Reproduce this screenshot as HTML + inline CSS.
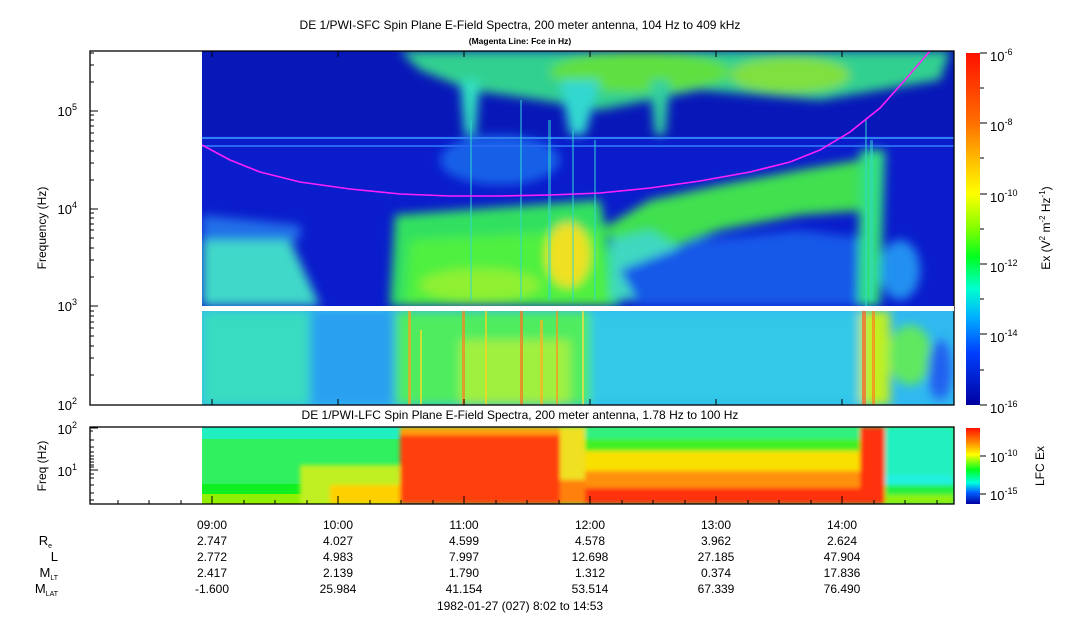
<!DOCTYPE html>
<html><head><meta charset="utf-8"><style>
body{margin:0;background:#fff;width:1083px;height:620px;overflow:hidden;font-family:"Liberation Sans",sans-serif}
svg text{font-family:"Liberation Sans",sans-serif;fill:#000}
</style></head><body>
<svg width="1083" height="620" xmlns="http://www.w3.org/2000/svg">
<defs>
<filter id="b" x="-20%" y="-20%" width="140%" height="140%"><feGaussianBlur stdDeviation="5"/></filter>
<filter id="b2"><feGaussianBlur stdDeviation="2"/></filter>
<clipPath id="cu"><rect x="202" y="51" width="752" height="255"/></clipPath>
<clipPath id="cl"><rect x="202" y="311" width="752" height="94"/></clipPath>
<clipPath id="cf"><rect x="202" y="427" width="752" height="77"/></clipPath>
<linearGradient id="cb" x1="0" y1="0" x2="0" y2="1">
<stop offset="0" stop-color="#ff1000"/><stop offset="0.2" stop-color="#ff7000"/><stop offset="0.33" stop-color="#ffd000"/><stop offset="0.4" stop-color="#ffff00"/><stop offset="0.5" stop-color="#80ff00"/><stop offset="0.58" stop-color="#00ff20"/><stop offset="0.67" stop-color="#00ffd0"/><stop offset="0.75" stop-color="#00b0ff"/><stop offset="0.85" stop-color="#0040ff"/><stop offset="1" stop-color="#0000a0"/></linearGradient>
<linearGradient id="cb2" x1="0" y1="0" x2="0" y2="1">
<stop offset="0" stop-color="#ff1000"/><stop offset="0.2" stop-color="#ff9000"/><stop offset="0.35" stop-color="#ffff00"/><stop offset="0.55" stop-color="#00ff20"/><stop offset="0.72" stop-color="#00ffe0"/><stop offset="0.85" stop-color="#0060ff"/><stop offset="1" stop-color="#0000a0"/></linearGradient>
</defs>

<!-- upper SFC panel -->
<rect x="202" y="51" width="752" height="255" fill="#0a1ccc"/>
<g clip-path="url(#cu)">
<rect x="202" y="51" width="752" height="85" fill="#0818b8"/>
<g filter="url(#b)">
<polygon points="202,240 290,240 320,306 202,306" fill="#40d8c8"/>
<polygon points="202,215 300,225 300,240 202,240" fill="#2070e8"/>
<polygon points="395,215 600,200 620,306 390,306" fill="#30e060"/>
<polygon points="410,240 600,230 610,306 405,306" fill="#50f040"/>
<ellipse cx="568" cy="255" rx="22" ry="32" fill="#f0e020"/>
<ellipse cx="480" cy="285" rx="60" ry="16" fill="#90f030"/>
<polygon points="600,230 650,200 720,185 800,170 860,160 870,210 800,215 720,230 640,260" fill="#40e050"/>
<polygon points="610,240 650,230 700,260 640,300 610,300" fill="#40d8c0"/>
<polygon points="620,270 700,240 800,230 880,240 880,306 640,306" fill="#1858e8"/>
<polygon points="400,51 950,51 940,80 880,90 820,100 760,95 700,90 650,100 600,110 540,100 470,90 420,70" fill="#30d090"/>
<ellipse cx="640" cy="72" rx="90" ry="20" fill="#60e040"/>
<ellipse cx="790" cy="75" rx="60" ry="18" fill="#80e040"/>
<polygon points="460,80 480,80 475,135 465,135" fill="#30e0c0"/>
<polygon points="560,80 600,80 585,135 570,135" fill="#30d8d0"/>
<polygon points="650,80 670,80 665,135 655,135" fill="#30d0a0"/>
<polygon points="860,150 885,150 880,306 858,306" fill="#30e080"/>
<ellipse cx="500" cy="160" rx="60" ry="25" fill="#1860e8"/>
<ellipse cx="900" cy="270" rx="20" ry="30" fill="#2090f0"/>
</g>
<rect x="202" y="137" width="752" height="2" fill="#3080f0"/>
<rect x="202" y="145" width="752" height="2" fill="#2868f0"/>
<g fill="#30d8d0" opacity="0.5">
<rect x="470" y="120" width="2" height="180"/><rect x="520" y="100" width="2" height="200"/><rect x="548" y="120" width="3" height="180"/>
<rect x="572" y="130" width="2" height="170"/><rect x="594" y="140" width="2" height="160"/><rect x="865" y="120" width="2" height="186"/>
<rect x="870" y="140" width="3" height="160"/>
</g>
<polyline fill="none" stroke="#ff20ff" stroke-width="1.6" points="202,145 230,160 260,172 300,182 350,189 400,194 450,196 500,196 550,195 600,193 650,188 700,181 750,172 790,162 820,150 850,132 880,108 905,80 930,51"/>
</g>

<!-- lower SFC panel -->
<g clip-path="url(#cl)">
<rect x="202" y="311" width="752" height="94" fill="#30b8f0"/>
<g filter="url(#b)">
<rect x="202" y="311" width="110" height="94" fill="#38dcc0"/>
<rect x="310" y="311" width="85" height="94" fill="#2aa0f0"/>
<rect x="395" y="311" width="195" height="94" fill="#50ec60"/>
<rect x="460" y="340" width="110" height="65" fill="#a0f040"/>
<rect x="590" y="311" width="270" height="94" fill="#30c8e8"/>
<rect x="860" y="311" width="30" height="94" fill="#c0f020"/>
<ellipse cx="910" cy="355" rx="22" ry="30" fill="#60e860"/>
<ellipse cx="940" cy="370" rx="12" ry="30" fill="#2060f0"/>
</g>
<g opacity="0.7">
<rect x="408" y="311" width="3" height="94" fill="#ffa020"/><rect x="420" y="330" width="2" height="75" fill="#ffe020"/>
<rect x="462" y="311" width="3" height="94" fill="#ff8020"/><rect x="485" y="311" width="2" height="94" fill="#ffd020"/>
<rect x="520" y="311" width="3" height="94" fill="#ff7020"/><rect x="540" y="320" width="3" height="85" fill="#ffb020"/>
<rect x="556" y="311" width="2" height="94" fill="#ff9020"/><rect x="582" y="311" width="2" height="94" fill="#ffe040"/>
<rect x="862" y="311" width="4" height="94" fill="#ff6020"/><rect x="872" y="311" width="3" height="94" fill="#ff8020"/>
</g>
</g>

<!-- FCE panel -->
<g clip-path="url(#cf)">
<rect x="202" y="427" width="752" height="77" fill="#30f060"/>
<rect x="202" y="427" width="200" height="12" fill="#20f0c0"/>
<rect x="202" y="439" width="200" height="40" fill="#30f060"/>
<rect x="202" y="484" width="200" height="10" fill="#10f020"/>
<rect x="202" y="494" width="200" height="10" fill="#90f000"/>
<g filter="url(#b2)">
<rect x="300" y="465" width="100" height="39" fill="#c0f020"/>
<rect x="330" y="485" width="70" height="19" fill="#ffd000"/>
<rect x="400" y="427" width="160" height="77" fill="#ff4010"/>
<rect x="400" y="427" width="160" height="8" fill="#ffa010"/>
<rect x="560" y="427" width="25" height="77" fill="#f0e020"/>
<rect x="560" y="480" width="25" height="24" fill="#ff8010"/>
<rect x="585" y="427" width="275" height="12" fill="#30f080"/>
<rect x="585" y="439" width="275" height="12" fill="#40f020"/>
<rect x="585" y="451" width="275" height="20" fill="#f8e000"/>
<rect x="585" y="471" width="275" height="17" fill="#ff9010"/>
<rect x="585" y="488" width="275" height="16" fill="#ff3010"/>
<rect x="860" y="427" width="25" height="77" fill="#ff3010"/>
<rect x="885" y="427" width="69" height="60" fill="#20f0c0"/>
<rect x="885" y="475" width="69" height="10" fill="#20f0e0"/>
<rect x="885" y="485" width="69" height="10" fill="#20f040"/>
<rect x="885" y="495" width="69" height="9" fill="#90f010"/>
</g>
</g>

<!-- frames -->
<g fill="none" stroke="#000" stroke-width="1.3">
<rect x="90" y="51" width="864" height="354"/>
<rect x="90" y="427" width="864" height="77"/>
</g>
<rect x="202" y="306" width="752" height="5" fill="#fff"/>

<g stroke="#000" stroke-width="1">
<path d="M90 405h8M90 306h8M90 209h8M90 111h8"/>
<path d="M90 375h4M90 358h4M90 346h4M90 336h4M90 328h4M90 322h4M90 316h4M90 311h4M90 277h4M90 260h4M90 248h4M90 238h4M90 230h4M90 224h4M90 218h4M90 213h4M90 180h4M90 163h4M90 151h4M90 141h4M90 133h4M90 126h4M90 120h4M90 115h4M90 82h4M90 65h4M90 53h4"/>
<path d="M90 428h8M90 470h8M90 485h4M90 478h4M90 474h4M90 493h4M90 500h4M90 440h4M90 447h4M90 452h4M90 456h4M90 459h4M90 462h4M90 465h4M90 467h4M90 431h3"/>
<path d="M212 504v-8M338 504v-8M464 504v-8M590 504v-8M716 504v-8M842 504v-8"/>
<path d="M118 504v-4M149 504v-4M181 504v-4M244 504v-4M275 504v-4M307 504v-4M370 504v-4M401 504v-4M433 504v-4M496 504v-4M527 504v-4M559 504v-4M622 504v-4M653 504v-4M685 504v-4M748 504v-4M779 504v-4M811 504v-4M874 504v-4M905 504v-4M937 504v-4"/>
<path d="M212 51v6M338 51v6M464 51v6M590 51v6M716 51v6M842 51v6M212 405v-6M338 405v-6M464 405v-6M590 405v-6M716 405v-6M842 405v-6"/>
</g>
<g font-size="13" text-anchor="end">
<text x="77" y="410">10<tspan font-size="9" dy="-6">2</tspan></text>
<text x="77" y="311">10<tspan font-size="9" dy="-6">3</tspan></text>
<text x="77" y="214">10<tspan font-size="9" dy="-6">4</tspan></text>
<text x="77" y="116">10<tspan font-size="9" dy="-6">5</tspan></text>
<text x="77" y="434">10<tspan font-size="9" dy="-6">2</tspan></text>
<text x="77" y="476">10<tspan font-size="9" dy="-6">1</tspan></text>
</g>
<text font-size="12" transform="translate(46,228) rotate(-90)" text-anchor="middle">Frequency (Hz)</text>
<text font-size="12" transform="translate(46,466) rotate(-90)" text-anchor="middle">Freq (Hz)</text>

<text x="520" y="29" font-size="12" text-anchor="middle">DE 1/PWI-SFC  Spin Plane E-Field Spectra, 200 meter antenna, 104 Hz to 409 kHz</text>
<text x="520" y="44" font-size="8.5" text-anchor="middle" font-weight="bold">(Magenta Line: Fce in Hz)</text>
<text x="520" y="419" font-size="12" text-anchor="middle">DE 1/PWI-LFC  Spin Plane E-Field Spectra, 200 meter antenna, 1.78 Hz to 100 Hz</text>

<rect x="966" y="53" width="14" height="352" fill="url(#cb)"/>
<g stroke="#000"><path d="M980 53h7M980 123h7M980 194h7M980 264h7M980 334h7M980 405h7M980 88h4M980 158h4M980 229h4M980 299h4M980 370h4"/></g>
<g font-size="13">
<text x="990" y="61">10<tspan font-size="9" dy="-6">-6</tspan></text>
<text x="990" y="131">10<tspan font-size="9" dy="-6">-8</tspan></text>
<text x="990" y="202">10<tspan font-size="9" dy="-6">-10</tspan></text>
<text x="990" y="272">10<tspan font-size="9" dy="-6">-12</tspan></text>
<text x="990" y="342">10<tspan font-size="9" dy="-6">-14</tspan></text>
<text x="990" y="413">10<tspan font-size="9" dy="-6">-16</tspan></text>
</g>
<text font-size="12" transform="translate(1050,228) rotate(-90)" text-anchor="middle">Ex (V<tspan font-size="8" dy="-5">2</tspan><tspan dy="5"> m</tspan><tspan font-size="8" dy="-5">-2</tspan><tspan dy="5"> Hz</tspan><tspan font-size="8" dy="-5">-1</tspan><tspan dy="5">)</tspan></text>
<rect x="966" y="428" width="14" height="76" fill="url(#cb2)"/>
<g stroke="#000"><path d="M980 456h6M980 494h6"/></g>
<g font-size="13">
<text x="990" y="462">10<tspan font-size="9" dy="-6">-10</tspan></text>
<text x="990" y="500">10<tspan font-size="9" dy="-6">-15</tspan></text>
</g>
<text font-size="12" transform="translate(1044,466) rotate(-90)" text-anchor="middle">LFC Ex</text>

<g font-size="12" text-anchor="middle">
<text x="212" y="529">09:00</text><text x="338" y="529">10:00</text><text x="464" y="529">11:00</text><text x="590" y="529">12:00</text><text x="716" y="529">13:00</text><text x="842" y="529">14:00</text>
<text x="212" y="545">2.747</text><text x="338" y="545">4.027</text><text x="464" y="545">4.599</text><text x="590" y="545">4.578</text><text x="716" y="545">3.962</text><text x="842" y="545">2.624</text>
<text x="212" y="561">2.772</text><text x="338" y="561">4.983</text><text x="464" y="561">7.997</text><text x="590" y="561">12.698</text><text x="716" y="561">27.185</text><text x="842" y="561">47.904</text>
<text x="212" y="577">2.417</text><text x="338" y="577">2.139</text><text x="464" y="577">1.790</text><text x="590" y="577">1.312</text><text x="716" y="577">0.374</text><text x="842" y="577">17.836</text>
<text x="212" y="593">-1.600</text><text x="338" y="593">25.984</text><text x="464" y="593">41.154</text><text x="590" y="593">53.514</text><text x="716" y="593">67.339</text><text x="842" y="593">76.490</text>
<text x="520" y="610">1982-01-27 (027) 8:02 to 14:53</text>
</g>
<g font-size="13" text-anchor="end">
<text x="52" y="545">R<tspan font-size="7" dy="3">e</tspan></text>
<text x="58" y="561">L</text>
<text x="58" y="577">M<tspan font-size="7" dy="3">LT</tspan></text>
<text x="58" y="593">M<tspan font-size="7" dy="3">LAT</tspan></text>
</g>
</svg>
</body></html>
